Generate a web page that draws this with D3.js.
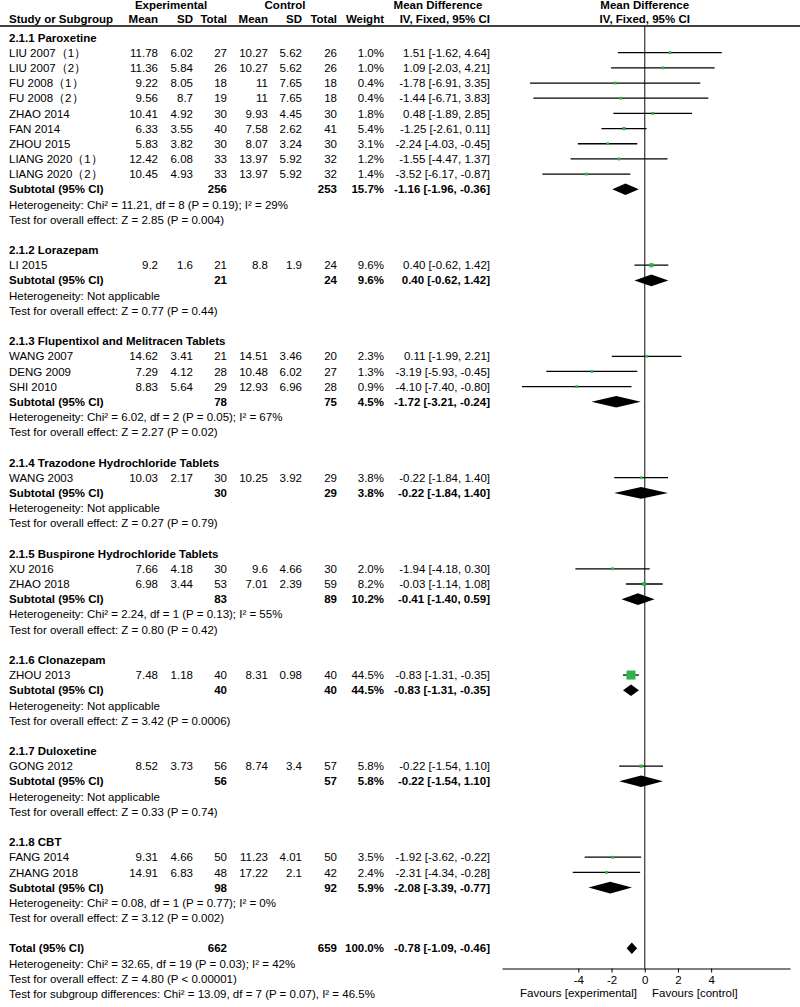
<!DOCTYPE html>
<html><head><meta charset="utf-8">
<script src="https://cdn.jsdelivr.net/npm/d3@7"></script>
<style>
body{margin:0;background:#fff}
svg text{font-family:"Liberation Sans",Arial,sans-serif;font-size:11.5px;fill:#000}
</style>
</head><body>
<svg id="chart" width="800" height="1007"></svg>
<script>
// ---------------- DATA ----------------
const groupNames = ["2.1.1 Paroxetine","2.1.2 Lorazepam","2.1.3 Flupentixol and Melitracen Tablets",
  "2.1.4 Trazodone Hydrochloride Tablets","2.1.5 Buspirone Hydrochloride Tablets","2.1.6 Clonazepam",
  "2.1.7 Duloxetine","2.1.8 CBT"];
const studyGroup = [0,0,0,0,0,0,0,0,0, 1, 2,2,2, 3, 4,4, 5, 6, 7,7];
const studyNames = ["LIU 2007（1）","LIU 2007（2）","FU 2008（1）","FU 2008（2）","ZHAO 2014","FAN 2014",
  "ZHOU 2015","LIANG 2020（1）","LIANG 2020（2）","LI 2015","WANG 2007","DENG 2009","SHI 2010","WANG 2003",
  "XU 2016","ZHAO 2018","ZHOU 2013","GONG 2012","FANG 2014","ZHANG 2018"];
const expMean  = [11.78,11.36,9.22,9.56,10.41,6.33,5.83,12.42,10.45,9.2,14.62,7.29,8.83,10.03,7.66,6.98,7.48,8.52,9.31,14.91];
const expSD    = [6.02,5.84,8.05,8.7,4.92,3.55,3.82,6.08,4.93,1.6,3.41,4.12,5.64,2.17,4.18,3.44,1.18,3.73,4.66,6.83];
const expTotal = [27,26,18,19,30,40,30,33,33,21,21,28,29,30,30,53,40,56,50,48];
const ctlMean  = [10.27,10.27,11,11,9.93,7.58,8.07,13.97,13.97,8.8,14.51,10.48,12.93,10.25,9.6,7.01,8.31,8.74,11.23,17.22];
const ctlSD    = [5.62,5.62,7.65,7.65,4.45,2.62,3.24,5.92,5.92,1.9,3.46,6.02,6.96,3.92,4.66,2.39,0.98,3.4,4.01,2.1];
const ctlTotal = [26,26,18,18,30,41,30,32,32,24,20,27,28,29,30,59,40,57,50,42];
const weight   = [1.0,1.0,0.4,0.4,1.8,5.4,3.1,1.2,1.4,9.6,2.3,1.3,0.9,3.8,2.0,8.2,44.5,5.8,3.5,2.4];
const md       = [1.51,1.09,-1.78,-1.44,0.48,-1.25,-2.24,-1.55,-3.52,0.40,0.11,-3.19,-4.10,-0.22,-1.94,-0.03,-0.83,-0.22,-1.92,-2.31];
const ciLow    = [-1.62,-2.03,-6.91,-6.71,-1.89,-2.61,-4.03,-4.47,-6.17,-0.62,-1.99,-5.93,-7.40,-1.84,-4.18,-1.14,-1.31,-1.54,-3.62,-4.34];
const ciHigh   = [4.64,4.21,3.35,3.83,2.85,0.11,-0.45,1.37,-0.87,1.42,2.21,-0.45,-0.80,1.40,0.30,1.08,-0.35,1.10,-0.22,-0.28];

const subExpTotal = [256,21,78,30,83,40,56,98];
const subCtlTotal = [253,24,75,29,89,40,57,92];
const subWeight   = [15.7,9.6,4.5,3.8,10.2,44.5,5.8,5.9];
const subMD       = [-1.16,0.40,-1.72,-0.22,-0.41,-0.83,-0.22,-2.08];
const subLow      = [-1.96,-0.62,-3.21,-1.84,-1.40,-1.31,-1.54,-3.39];
const subHigh     = [-0.36,1.42,-0.24,1.40,0.59,-0.35,1.10,-0.77];
const subHet = ["Heterogeneity: Chi² = 11.21, df = 8 (P = 0.19); I² = 29%","Heterogeneity: Not applicable",
  "Heterogeneity: Chi² = 6.02, df = 2 (P = 0.05); I² = 67%","Heterogeneity: Not applicable",
  "Heterogeneity: Chi² = 2.24, df = 1 (P = 0.13); I² = 55%","Heterogeneity: Not applicable",
  "Heterogeneity: Not applicable","Heterogeneity: Chi² = 0.08, df = 1 (P = 0.77); I² = 0%"];
const subTest = ["Test for overall effect: Z = 2.85 (P = 0.004)","Test for overall effect: Z = 0.77 (P = 0.44)",
  "Test for overall effect: Z = 2.27 (P = 0.02)","Test for overall effect: Z = 0.27 (P = 0.79)",
  "Test for overall effect: Z = 0.80 (P = 0.42)","Test for overall effect: Z = 3.42 (P = 0.0006)",
  "Test for overall effect: Z = 0.33 (P = 0.74)","Test for overall effect: Z = 3.12 (P = 0.002)"];

const totalExp = 662, totalCtl = 659, totalWeight = 100.0, totalMD = -0.78, totalLow = -1.09, totalHigh = -0.46;
const totalNotes = ["Heterogeneity: Chi² = 32.65, df = 19 (P = 0.03); I² = 42%",
  "Test for overall effect: Z = 4.80 (P < 0.00001)",
  "Test for subgroup differences: Chi² = 13.09, df = 7 (P = 0.07), I² = 46.5%"];
const axisTicks = [-4,-2,0,2,4];
const favourLabels = ["Favours [experimental]","Favours [control]"];

// ---------------- LAYOUT ----------------
const svg = d3.select("#chart");
const rowY = i => 37.5 + i*15.18;
const colX = {label:9, expMean:158, expSD:193, expTotal:227, ctlMean:268, ctlSD:302, ctlTotal:337, weight:384, ci:490};
const x = d3.scaleLinear().domain([-8.6, 8.75]).range([502, 790]);
const axisY = 968.5;
const green = "#2fb24a";

const fmtCI = (m,l,h) => `${m.toFixed(2)} [${l.toFixed(2)}, ${h.toFixed(2)}]`;
const fmtW = w => w.toFixed(1) + "%";

function txt(str, xx, y, anchor="start", bold=false){
  svg.append("text").attr("x", xx).attr("y", y + 4.1)
    .attr("text-anchor", anchor).attr("font-weight", bold ? "bold" : null).text(str);
}

// header
txt("Experimental", 171, 5, "middle", true);
txt("Control", 285, 5, "middle", true);
txt("Mean Difference", 438, 5, "middle", true);
txt("Mean Difference", x(0), 5, "middle", true);
txt("Study or Subgroup", colX.label, 19, "start", true);
[["Mean","expMean"],["SD","expSD"],["Total","expTotal"],["Mean","ctlMean"],["SD","ctlSD"],["Total","ctlTotal"],["Weight","weight"]]
  .forEach(([t,k]) => txt(t, colX[k], 19, "end", true));
txt("IV, Fixed, 95% CI", 490, 19, "end", true);
txt("IV, Fixed, 95% CI", x(0), 19, "middle", true);
svg.append("line").attr("x1",0).attr("x2",800).attr("y1",26).attr("y2",26).attr("stroke","#000").attr("stroke-width",1.3);

// zero line
svg.append("line").attr("x1",x(0)).attr("x2",x(0)).attr("y1",26).attr("y2",axisY).attr("stroke","#222").attr("stroke-width",1.1);

function diamond(m,l,h,y){
  svg.append("path").attr("d", `M${x(l)},${y}L${x(m)},${y-5.8}L${x(h)},${y}L${x(m)},${y+5.8}Z`).attr("fill","#000");
}

let r = 0;
groupNames.forEach((g, gi) => {
  txt(g, colX.label, rowY(r), "start", true); r++;
  studyNames.forEach((s, si) => {
    if (studyGroup[si] !== gi) return;
    const y = rowY(r);
    txt(s, colX.label, y);
    txt(String(expMean[si]), colX.expMean, y, "end");
    txt(String(expSD[si]), colX.expSD, y, "end");
    txt(String(expTotal[si]), colX.expTotal, y, "end");
    txt(String(ctlMean[si]), colX.ctlMean, y, "end");
    txt(String(ctlSD[si]), colX.ctlSD, y, "end");
    txt(String(ctlTotal[si]), colX.ctlTotal, y, "end");
    txt(fmtW(weight[si]), colX.weight, y, "end");
    txt(fmtCI(md[si], ciLow[si], ciHigh[si]), colX.ci, y, "end");
    svg.append("line").attr("x1", x(ciLow[si])).attr("x2", x(ciHigh[si])).attr("y1", y).attr("y2", y)
      .attr("stroke","#000").attr("stroke-width",1.3);
    const sz = Math.max(2.8, 13.5*Math.sqrt(weight[si]/100));
    svg.append("rect").attr("x", x(md[si]) - sz/2).attr("y", y - sz/2).attr("width", sz).attr("height", sz).attr("fill", green);
    r++;
  });
  const y = rowY(r);
  txt("Subtotal (95% CI)", colX.label, y, "start", true);
  txt(String(subExpTotal[gi]), colX.expTotal, y, "end", true);
  txt(String(subCtlTotal[gi]), colX.ctlTotal, y, "end", true);
  txt(fmtW(subWeight[gi]), colX.weight, y, "end", true);
  txt(fmtCI(subMD[gi], subLow[gi], subHigh[gi]), colX.ci, y, "end", true);
  diamond(subMD[gi], subLow[gi], subHigh[gi], y);
  r++;
  txt(subHet[gi], colX.label, rowY(r)); r++;
  txt(subTest[gi], colX.label, rowY(r)); r++;
  r++; // blank
});

// total
const ty = rowY(r);
txt("Total (95% CI)", colX.label, ty, "start", true);
txt(String(totalExp), colX.expTotal, ty, "end", true);
txt(String(totalCtl), colX.ctlTotal, ty, "end", true);
txt(fmtW(totalWeight), colX.weight, ty, "end", true);
txt(fmtCI(totalMD, totalLow, totalHigh), colX.ci, ty, "end", true);
diamond(totalMD, totalLow, totalHigh, ty);
totalNotes.forEach((t, i) => txt(t, colX.label, rowY(r + 1 + i)));

// axis
const axis = d3.axisBottom(x).tickValues(axisTicks).tickSize(4).tickSizeOuter(0).tickFormat(d => String(d));
const ag = svg.append("g").attr("transform", `translate(0,${axisY})`).call(axis);
ag.select(".domain").attr("stroke","#000").attr("stroke-width",1.2);
ag.selectAll(".tick line").attr("stroke","#000");
ag.selectAll(".tick text").attr("font-family",null).attr("font-size",null).attr("fill","#000");
txt(favourLabels[0], 637, 993, "end");
txt(favourLabels[1], 652, 993, "start");
</script>
</body></html>
